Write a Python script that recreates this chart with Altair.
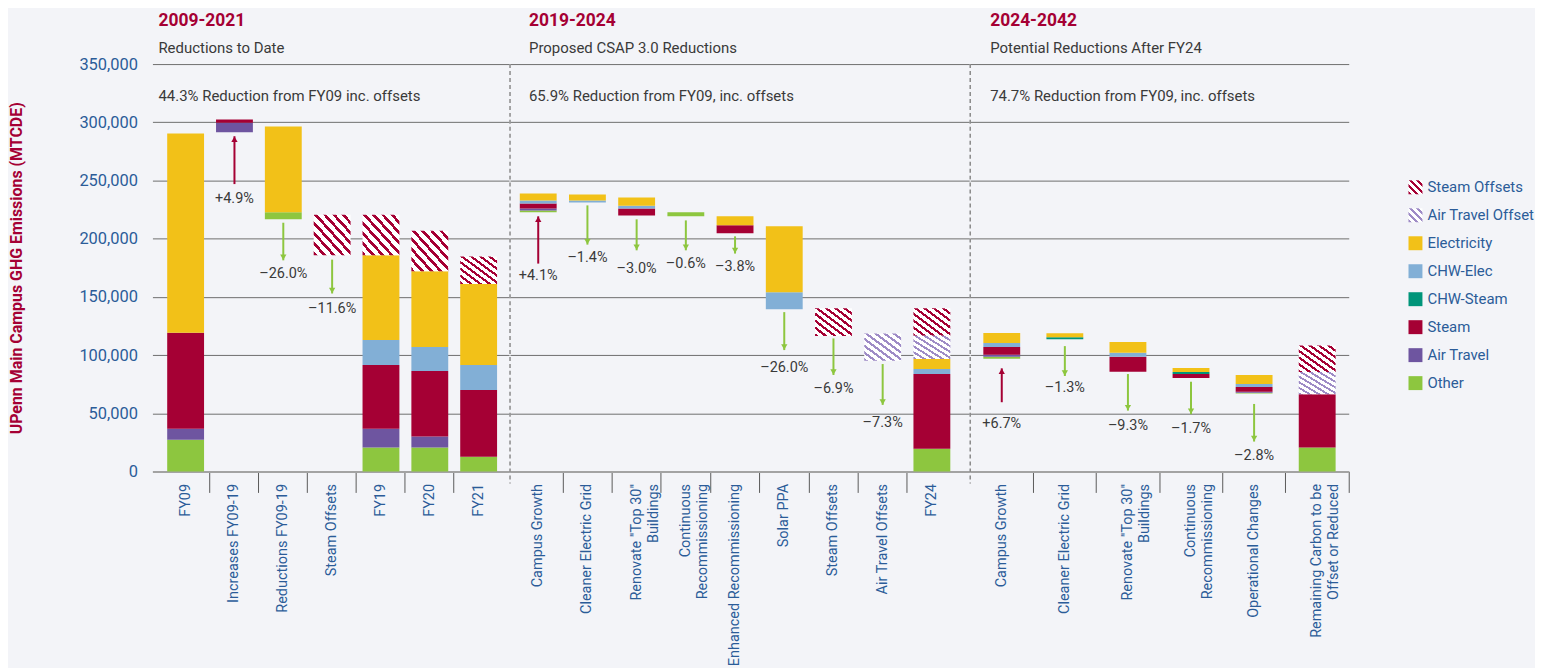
import altair as alt
import pandas as pd

# ------------------------------------------------------------------ data
section = [1] * 7 + [2] * 9 + [3] * 6
category = [
    "FY09", "Increases FY09-19", "Reductions FY09-19", "Steam Offsets", "FY19", "FY20", "FY21",
    "Campus Growth", "Cleaner Electric Grid", 'Renovate "Top 30"|Buildings',
    "Continuous|Recommissioning", "Enhanced Recommissioning", "Solar PPA", "Steam Offsets",
    "Air Travel Offsets", "FY24",
    "Campus Growth", "Cleaner Electric Grid", 'Renovate "Top 30"|Buildings',
    "Continuous|Recommissioning", "Operational Changes", "Remaining Carbon to be|Offset or Reduced",
]
base = [0, 291400, 216600, 185700, 0, 0, 0,
        222600, 231100, 220000, 219200, 204600, 139400, 116300, 95100, 0,
        96900, 113700, 85700, 80300, 66900, 0]
other = [27200, 0, 6000, 0, 20600, 20600, 12600,
         1700, 0, 0, 3400, 0, 0, 0, 0, 19500,
         1700, 0, 0, 0, 800, 20600]
air_travel = [9400, 8300, 0, 0, 16000, 9400, 0,
              1700, 0, 0, 0, 0, 0, 0, 0, 0,
              1700, 0, 0, 0, 900, 0]
steam = [82500, 2600, 0, 0, 54800, 56300, 57400,
         4300, 0, 6000, 0, 6900, 0, 0, 0, 64200,
         6600, 0, 12900, 3400, 4000, 45700]
chw_steam = [0, 0, 0, 0, 0, 0, 0,
             0, 0, 0, 0, 0, 0, 0, 0, 0,
             0, 1700, 0, 1700, 0, 0]
chw_elec = [0, 0, 0, 0, 21500, 20600, 21400,
            2600, 1800, 2300, 0, 0, 14600, 0, 0, 4300,
            3400, 0, 3400, 0, 2600, 0]
electricity = [171200, 0, 73700, 0, 72800, 65100, 69700,
               6000, 5000, 7100, 0, 7700, 56600, 0, 0, 8600,
               8600, 3400, 9200, 3400, 7700, 0]
air_offset = [0, 0, 0, 0, 0, 0, 0,
              0, 0, 0, 0, 0, 0, 0, 23500, 20000,
              0, 0, 0, 0, 0, 19200]
steam_offset = [0, 0, 0, 34900, 34900, 34900, 23500,
                0, 0, 0, 0, 0, 0, 24000, 0, 23700,
                0, 0, 0, 0, 0, 22800]

arrow_section = [1, 1, 1, 2, 2, 2, 2, 2, 2, 2, 2, 3, 3, 3, 3, 3]
arrow_category = [
    "Increases FY09-19", "Reductions FY09-19", "Steam Offsets",
    "Campus Growth", "Cleaner Electric Grid", 'Renovate "Top 30"|Buildings',
    "Continuous|Recommissioning", "Enhanced Recommissioning", "Solar PPA", "Steam Offsets",
    "Air Travel Offsets",
    "Campus Growth", "Cleaner Electric Grid", 'Renovate "Top 30"|Buildings',
    "Continuous|Recommissioning", "Operational Changes",
]
arrow_from = [246900, 213700, 182000, 178600, 228600, 216600, 215700, 202000, 136900, 114300, 92300,
              59500, 107700, 83700, 77100, 58000]
arrow_to = [288000, 181400, 152900, 219200, 194900, 190000, 190000, 187200, 104300, 82900, 57200,
            88600, 82000, 52300, 49200, 25700]
arrow_label = ["+4.9%", "–26.0%", "–11.6%", "+4.1%", "–1.4%", "–3.0%", "–0.6%", "–3.8%", "–26.0%",
               "–6.9%", "–7.3%", "+6.7%", "–1.3%", "–9.3%", "–1.7%", "–2.8%"]
arrow_label_y = [234400, 169400, 139200, 168300, 183400, 174000, 178600, 175700, 89100, 70600, 42000,
                 40900, 71400, 39200, 36300, 13500]

section_titles = ["2009-2021", "2019-2024", "2024-2042"]
section_subtitles = ["Reductions  to Date", "Proposed CSAP 3.0 Reductions", "Potential Reductions After FY24"]
section_notes = ["44.3% Reduction from FY09 inc. offsets",
                 "65.9% Reduction from FY09, inc. offsets",
                 "74.7% Reduction from FY09, inc. offsets"]
y_ticks = [0, 50000, 100000, 150000, 200000, 250000, 300000, 350000]
legend_items = ["Steam Offsets", "Air Travel Offset", "Electricity", "CHW-Elec", "CHW-Steam",
                "Steam", "Air Travel", "Other"]

# ------------------------------------------------------------------ style
FONT = "Roboto"
CRIMSON = "#A50034"
GREEN = "#8DC63F"
BLUE = "#2B5C98"
LAVENDER = "#9E8BC6"
GRID = "#6e6e6e"
TEXT = "#3a3a3a"
BG = "#F3F4F8"
solid_names = ["Electricity", "CHW-Elec", "CHW-Steam", "Steam", "Air Travel", "Other"]
solid_colors = ["#F2C118", "#82AFD6", "#00957A", CRIMSON, "#6E55A0", GREEN]
H = 409
BAR = 37


def hatch(color, n=8, frac=0.4):
    stops = []
    for k in range(n):
        a, b, c = k / n, (k + frac) / n, (k + 1) / n
        stops += [{"offset": a, "color": color}, {"offset": b, "color": color},
                  {"offset": b, "color": "white"}, {"offset": c, "color": "white"}]
    return {"gradient": "linear", "x1": 0, "y1": 1, "x2": 1, "y2": 0, "stops": stops}


# ------------------------------------------------------------------ tables
series_lists = [("Other", other), ("Air Travel", air_travel), ("Steam", steam),
                ("CHW-Steam", chw_steam), ("CHW-Elec", chw_elec), ("Electricity", electricity),
                ("Air Travel Offset", air_offset), ("Steam Offsets", steam_offset)]
rows = []
for i in range(len(category)):
    y = base[i]
    for name, vals in series_lists:
        v = vals[i]
        if v:
            rows.append({"sec": section[i], "cat": category[i], "series": name, "y0": y, "y1": y + v})
            y += v
bars = pd.DataFrame(rows)

arrows = pd.DataFrame({"sec": arrow_section, "cat": arrow_category, "y_from": arrow_from,
                       "y_to": arrow_to, "label": arrow_label, "label_y": arrow_label_y})
arrows["dir"] = ["up" if t > f else "down" for f, t in zip(arrow_from, arrow_to)]

color_scale = alt.Scale(domain=solid_names, range=solid_colors)


def panel(sec, width, pad_outer, align, dx, hide_last):
    cats = [c for s, c in zip(section, category) if s == sec]
    tick_op = {"condition": {"test": f"datum.value === '{cats[-1]}'", "value": 0}, "value": 1} if hide_last else 1
    x = alt.X("cat:N", sort=cats, title=None,
              scale=alt.Scale(paddingInner=0, paddingOuter=pad_outer, align=align),
              axis=alt.Axis(labelAngle=-90, labelAlign="right", labelBaseline="middle",
                            labelFontSize=14.5, labelColor=BLUE, labelExpr="split(datum.label, '|')",
                            labelLimit=400, labelLineHeight=17, labelPadding=-9,
                            ticks=True, tickSize=21, tickColor="#5a5a5a", tickWidth=1,
                            bandPosition=1, tickExtra=False, tickOpacity=tick_op,
                            domainColor="#a3a3a3", domainWidth=2, grid=False))
    if sec == 1:
        yaxis = alt.Axis(values=y_ticks, labelExpr="format(datum.value, ',')", labelFontSize=16.5,
                         labelColor=BLUE, labelPadding=15,
                         ticks=False, domain=False, grid=True, gridColor=GRID, gridWidth=1,
                         title="UPenn Main Campus GHG Emissions (MTCDE)", titleFontSize=16,
                         titleFontWeight="bold", titleColor=CRIMSON, titleAngle=-90,
                         titleX=-136, titleY=H / 2, titleAlign="center", titleBaseline="middle")
    else:
        yaxis = alt.Axis(values=y_ticks, labels=False, ticks=False, domain=False, grid=True,
                         gridColor=GRID, gridWidth=1, title=None)
    ysc = alt.Scale(domain=[0, 350000], nice=False)

    def Y(field):
        return alt.Y(field, scale=ysc, axis=yaxis)

    d = bars[bars.sec == sec]
    layers = [
        alt.Chart(d[d.series.isin(solid_names)]).mark_bar(size=BAR).encode(
            x=x, y=Y("y0:Q"), y2="y1:Q",
            color=alt.Color("series:N", scale=color_scale, legend=None))
    ]
    for name, col in [("Steam Offsets", CRIMSON), ("Air Travel Offset", LAVENDER)]:
        dh = d[d.series == name]
        if len(dh):
            layers.append(alt.Chart(dh).mark_bar(size=BAR, fill=hatch(col)).encode(
                x=x, y=Y("y0:Q"), y2="y1:Q"))
    a = arrows[arrows.sec == sec]
    for direction, col, shape, off in [("up", CRIMSON, "triangle-up", 3), ("down", GREEN, "triangle-down", -3)]:
        ad = a[a.dir == direction]
        if len(ad):
            layers.append(alt.Chart(ad).mark_rule(color=col, strokeWidth=2).encode(
                x=x, y=Y("y_from:Q"), y2="y_to:Q"))
            layers.append(alt.Chart(ad).mark_point(shape=shape, filled=True, color=col, size=40,
                                                   opacity=1, yOffset=off).encode(x=x, y=Y("y_to:Q")))
    layers.append(alt.Chart(a).mark_text(fontSize=14.5, color=TEXT, baseline="middle").encode(
        x=x, y=Y("label_y:Q"), text="label:N"))
    head = pd.DataFrame({"title": [section_titles[sec - 1]], "sub": [section_subtitles[sec - 1]],
                         "note": [section_notes[sec - 1]]})
    layers.append(alt.Chart(head).mark_text(
        align="left", baseline="middle", fontSize=15, color=TEXT).encode(
        x=alt.value(dx), y=alt.value(32), text="note:N"))
    layers.append(alt.Chart(head).mark_text(
        align="left", baseline="alphabetic", fontSize=17.5, fontWeight="bold", color=CRIMSON).encode(
        x=alt.value(dx), y=alt.value(-38), text="title:N"))
    layers.append(alt.Chart(head).mark_text(
        align="left", baseline="alphabetic", fontSize=15, color=TEXT).encode(
        x=alt.value(dx), y=alt.value(-11), text="sub:N"))
    if sec > 1:
        layers.append(alt.Chart(pd.DataFrame({"d": [0]})).mark_rule(
            color="#8a8a8a", strokeWidth=1.5, strokeDash=[4, 3]).encode(
            x=alt.value(0), y=alt.value(0), y2=alt.value(H + 12)))
    return alt.layer(*layers).properties(width=width, height=H)


p1 = panel(1, 358, 0.151, 0.595, 6, True)
p2 = panel(2, 461, 0.166, 0.22, 19, True)
p3 = panel(3, 380, 0.0, 0.5, 20, False)

# legend panel
leg = pd.DataFrame({"series": legend_items})
ly = alt.Y("series:N", sort=legend_items, scale=alt.Scale(range=[123.7, 320.3], padding=0), axis=None)
leg_layers = [
    alt.Chart(leg[leg.series.isin(solid_names)]).mark_square(size=196, opacity=1).encode(
        x=alt.value(66), y=ly, color=alt.Color("series:N", scale=color_scale, legend=None)),
    alt.Chart(leg[leg.series == "Steam Offsets"]).mark_square(size=196, opacity=1, fill=hatch(CRIMSON, 4, 0.45)).encode(
        x=alt.value(66), y=ly),
    alt.Chart(leg[leg.series == "Air Travel Offset"]).mark_square(size=196, opacity=1, fill=hatch(LAVENDER, 4, 0.45)).encode(
        x=alt.value(66), y=ly),
    alt.Chart(leg).mark_text(align="left", baseline="middle", fontSize=15, color=BLUE).encode(
        x=alt.value(78), y=ly, text="series:N"),
]
legend_panel = alt.layer(*leg_layers).properties(width=180, height=H)

chart = alt.hconcat(p1, p2, p3, legend_panel, spacing=0).resolve_scale(
    x="independent", y="independent"
).properties(
    background=BG, padding={"left": 0, "top": 3, "right": 0, "bottom": 0}
).configure(font=FONT).configure_view(stroke=None)

chart.save("out.html", embed_options={"renderer": "svg", "actions": False})
